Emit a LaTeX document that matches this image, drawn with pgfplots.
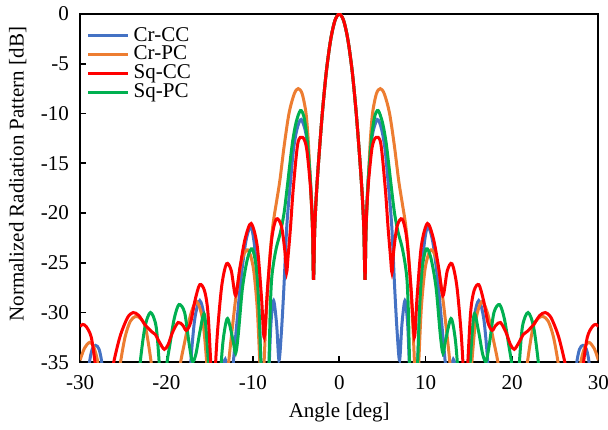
\documentclass[border=0pt]{standalone}
\usepackage{fontspec}
\setmainfont{Liberation Serif}
\usepackage{pgfplots}
\pgfplotsset{compat=1.18}
\definecolor{cBlue}{RGB}{68,114,196}
\definecolor{cOrange}{RGB}{237,125,49}
\definecolor{cRed}{RGB}{255,0,0}
\definecolor{cGreen}{RGB}{0,176,80}
\begin{document}
\begin{tikzpicture}
\begin{axis}[
 scale only axis, width=259pt, height=174pt,
 xmin=-30, xmax=30, ymin=-35, ymax=0,
 xtick={-30,-20,...,30}, ytick={-35,-30,...,0},
 tick pos=left,
 tick align=inside, major tick length=3pt,
 axis line style={line width=1pt},
 every tick/.style={black, line width=0.8pt},
 /pgf/number format/assume math mode=true,
 ticklabel style={font=\fontsize{10.5}{12}\selectfont},
 xticklabel style={yshift=-3pt},
 yticklabel style={xshift=-2pt},
 xlabel={Angle [deg]}, ylabel={Normalized Radiation Pattern [dB]},
 label style={font=\fontsize{10.5}{12}\selectfont},
 xlabel style={at={(axis description cs:0.5,-0.145)}, anchor=center},
 ylabel style={at={(axis description cs:-0.12,0.54)}, anchor=center},
 legend style={draw=none, fill=none, at={(axis description cs:0.012,0.975)}, anchor=north west, font=\fontsize{10.5}{12}\selectfont, row sep=-3pt, inner sep=0pt},
 legend cell align=left,
 legend image code/.code={\draw[#1] (0pt,0pt) -- (20pt,0pt);},
 unbounded coords=jump,
 every axis plot/.append style={line width=1.5pt, smooth},
]
% Cr-CC
\addplot[cBlue, forget plot] table {
x y
-29.5 -45
-29.2 -39
-28.95 -35.3
-28.6 -33.7
-28.2 -33.3
-27.8 -33.7
-27.45 -35.3
-27.2 -39
-26.9 -45
nan nan
-17.7 -43
-17.4 -38
-17.1 -34
-16.7 -30.5
-16.14 -28.8
-15.6 -30.6
-15.2 -35
-14.9 -38
-14.6 -42
-14.2 -44
-13.8 -40
-13.5 -36
-13.2 -34.7
-12.9 -36
-12.6 -37.5
-12.3 -35.3
-11.9 -31.5
-11.4 -26.8
-10.8 -22.8
-10.2 -21.4
-9.7 -24.2
-9.3 -30
-9.07 -35
-8.8 -40
-8.4 -42
-8.1 -35.0
-7.9 -31.0
-7.6 -28.8
-7.25 -31.2
-6.98 -34.8
-6.7 -32.0
-6.41 -27.5
-6.1 -21.7
-5.85 -18.8
-5.6 -16.4
-5.3 -13.6
-4.9 -11.6
-4.4 -10.6
-3.8 -12.3
-3.4 -16.0
-3.2 -19.0
-3.08 -22.0
-2.98 -26.7
-2.85 -21.8
-2.7 -18.9
-2.5 -16.1
-2.24 -13.0
-1.93 -9.65
-1.5 -5.8
-1.0 -2.6
-0.5 -0.65
0 0
0.5 -0.65
1.0 -2.6
1.5 -5.8
1.93 -9.65
2.24 -13.0
2.5 -16.1
2.7 -18.9
2.85 -21.8
2.98 -26.7
3.08 -22.0
3.2 -19.0
3.4 -16.0
3.8 -12.3
4.4 -10.6
4.9 -11.6
5.3 -13.6
5.6 -16.4
5.85 -18.8
6.1 -21.7
6.41 -27.5
6.7 -32.0
6.98 -34.8
7.25 -31.2
7.6 -28.8
7.9 -31.0
8.1 -35.0
8.4 -42
8.8 -40
9.07 -35
9.3 -30
9.7 -24.2
10.2 -21.4
10.8 -22.8
11.4 -26.8
11.9 -31.5
12.3 -35.3
12.6 -37.5
12.9 -36
13.2 -34.7
13.5 -36
13.8 -40
14.2 -44
14.6 -42
14.9 -38
15.2 -35
15.6 -30.6
16.14 -28.8
16.7 -30.5
17.1 -34
17.4 -38
17.7 -43
nan nan
26.9 -45
27.2 -39
27.45 -35.3
27.8 -33.7
28.2 -33.3
28.6 -33.7
28.95 -35.3
29.2 -39
29.5 -45
};
% Cr-PC
\addplot[cOrange, forget plot] table {
x y
-30 -34.8
-29.5 -33.6
-28.9 -33.0
-28.4 -33.5
-27.9 -35.3
-27.6 -39
-27.3 -44
nan nan
-26.2 -44
-25.8 -39
-25.4 -35.5
-24.8 -32.5
-24.2 -30.9
-23.6 -30.4
-23.0 -30.6
-22.4 -31.6
-21.7 -35.5
-21.4 -39
-21.0 -44
nan nan
-19.2 -44
-18.8 -39
-18.45 -35.5
-17.9 -33
-17.2 -30.2
-16.5 -28.9
-15.8 -30.8
-15.3 -35.5
-15.0 -40
-14.7 -44
nan nan
-13.8 -44
-13.3 -41
-12.9 -36
-12.5 -32.5
-11.9 -28
-11.3 -24.8
-10.7 -23.7
-10.3 -24.2
-9.9 -25.8
-9.5 -29.5
-9.2 -35
-8.95 -40
-8.75 -36
-8.5 -31
-8.22 -26.75
-7.95 -23.5
-7.65 -21.0
-7.25 -18.8
-6.87 -16.7
-6.37 -13.2
-5.8 -9.9
-5.2 -8.0
-4.75 -7.5
-4.3 -8.0
-3.86 -9.9
-3.6 -12.6
-3.4 -16.0
-3.2 -19.5
-3.08 -22.2
-2.98 -26.7
-2.85 -21.8
-2.7 -18.9
-2.5 -16.1
-2.24 -13.0
-1.93 -9.65
-1.5 -5.8
-1.0 -2.6
-0.5 -0.65
0 0
0.5 -0.65
1.0 -2.6
1.5 -5.8
1.93 -9.65
2.24 -13.0
2.5 -16.1
2.7 -18.9
2.85 -21.8
2.98 -26.7
3.08 -22.2
3.2 -19.5
3.4 -16.0
3.6 -12.6
3.86 -9.9
4.3 -8.0
4.75 -7.5
5.2 -8.0
5.8 -9.9
6.37 -13.2
6.87 -16.7
7.25 -18.8
7.65 -21.0
7.95 -23.5
8.22 -26.75
8.5 -31
8.75 -36
8.95 -40
9.2 -35
9.5 -29.5
9.9 -25.8
10.3 -24.2
10.7 -23.7
11.3 -24.8
11.9 -28
12.5 -32.5
12.9 -36
13.3 -41
13.8 -44
nan nan
14.7 -44
15.0 -40
15.3 -35.5
15.8 -30.8
16.5 -28.9
17.2 -30.2
17.9 -33
18.45 -35.5
18.8 -39
19.2 -44
nan nan
21.0 -44
21.4 -39
21.7 -35.5
22.4 -31.6
23.0 -30.6
23.6 -30.4
24.2 -30.9
24.8 -32.5
25.4 -35.5
25.8 -39
26.2 -44
nan nan
27.3 -44
27.6 -39
27.9 -35.3
28.4 -33.5
28.9 -33.0
29.5 -33.6
30 -34.8
};
% Sq-PC
\addplot[cGreen, forget plot] table {
x y
-23.9 -45
-23.5 -40
-23.1 -35.5
-22.5 -31.5
-21.85 -30.0
-21.2 -31.4
-20.8 -35.5
-20.4 -40
-20.0 -35.5
-19.6 -33.2
-19.1 -30.6
-18.55 -29.2
-17.9 -30.0
-17.4 -33.0
-17.0 -34.9
-16.6 -34.2
-16.1 -31.8
-15.6 -30.2
-15.15 -35
-14.9 -39
-14.6 -44
nan nan
-14.4 -44
-14.0 -40
-13.7 -35.5
-13.4 -32.5
-12.93 -30.6
-12.3 -32.8
-12.0 -34.1
-11.7 -32.3
-11.2 -27.5
-10.6 -24.5
-10.08 -23.6
-9.6 -25.5
-9.3 -29.5
-9.07 -35
-8.8 -40
-8.4 -42
-8.15 -35.5
-8.0 -30
-7.84 -26.75
-7.6 -25.0
-7.26 -23.4
-6.8 -21.9
-6.4 -20.05
-6.05 -17.6
-5.71 -15.0
-5.4 -12.8
-5.0 -10.9
-4.5 -9.7
-4.1 -10.3
-3.75 -12.3
-3.4 -16.0
-3.2 -19.3
-3.08 -22.1
-2.98 -26.7
-2.85 -21.8
-2.7 -18.9
-2.5 -16.1
-2.24 -13.0
-1.93 -9.65
-1.5 -5.8
-1.0 -2.6
-0.5 -0.65
0 0
0.5 -0.65
1.0 -2.6
1.5 -5.8
1.93 -9.65
2.24 -13.0
2.5 -16.1
2.7 -18.9
2.85 -21.8
2.98 -26.7
3.08 -22.1
3.2 -19.3
3.4 -16.0
3.75 -12.3
4.1 -10.3
4.5 -9.7
5.0 -10.9
5.4 -12.8
5.71 -15.0
6.05 -17.6
6.4 -20.05
6.8 -21.9
7.26 -23.4
7.6 -25.0
7.84 -26.75
8.0 -30
8.15 -35.5
8.4 -42
8.8 -40
9.07 -35
9.3 -29.5
9.6 -25.5
10.08 -23.6
10.6 -24.5
11.2 -27.5
11.7 -32.3
12.0 -34.1
12.3 -32.8
12.93 -30.6
13.4 -32.5
13.7 -35.5
14.0 -40
14.4 -44
nan nan
14.6 -44
14.9 -39
15.15 -35
15.6 -30.2
16.1 -31.8
16.6 -34.2
17.0 -34.9
17.4 -33.0
17.9 -30.0
18.55 -29.2
19.1 -30.6
19.6 -33.2
20.0 -35.5
20.4 -40
20.8 -35.5
21.2 -31.4
21.85 -30.0
22.5 -31.5
23.1 -35.5
23.5 -40
23.9 -45
};
% Sq-CC
\addplot[cRed, forget plot] table {
x y
-30 -31.4
-29.7 -31.2
-29.3 -31.4
-28.7 -32.5
-28.2 -35.5
-27.8 -39
-27.3 -42
-26.8 -40
-26.3 -36
-25.9 -34.2
-25.3 -32.2
-24.5 -30.5
-23.85 -30.0
-23.2 -30.3
-22.5 -31.2
-21.75 -31.9
-21.3 -32.2
-20.8 -33.0
-20.25 -33.7
-19.8 -33.2
-19.3 -32.0
-18.65 -31.0
-18.1 -31.3
-17.7 -31.8
-17.2 -31.0
-16.7 -28.8
-16.15 -27.2
-15.6 -27.8
-15.2 -30
-14.85 -35.5
-14.6 -40
-14.4 -36.5
-14.1 -32
-13.6 -27.3
-13.05 -25.1
-12.5 -25.8
-12.0 -28.3
-11.5 -25.5
-10.9 -22.6
-10.2 -21.05
-9.5 -23.3
-9.0 -28.5
-8.69 -32.5
-8.3 -27.5
-7.8 -22.5
-7.28 -20.6
-6.7 -21.3
-6.3 -23.8
-6.1 -26.0
-5.91 -24.2
-5.65 -21.5
-5.33 -17.6
-4.8 -13.0
-4.25 -12.4
-3.8 -13.4
-3.4 -16.7
-3.2 -19.3
-3.08 -22.0
-2.98 -26.7
-2.85 -21.8
-2.7 -18.9
-2.5 -16.1
-2.24 -13.0
-1.93 -9.65
-1.5 -5.8
-1.0 -2.6
-0.5 -0.65
0 0
0.5 -0.65
1.0 -2.6
1.5 -5.8
1.93 -9.65
2.24 -13.0
2.5 -16.1
2.7 -18.9
2.85 -21.8
2.98 -26.7
3.08 -22.0
3.2 -19.3
3.4 -16.7
3.8 -13.4
4.25 -12.4
4.8 -13.0
5.33 -17.6
5.65 -21.5
5.91 -24.2
6.1 -26.0
6.3 -23.8
6.7 -21.3
7.28 -20.6
7.8 -22.5
8.3 -27.5
8.69 -32.5
9.0 -28.5
9.5 -23.3
10.2 -21.05
10.9 -22.6
11.5 -25.5
12.0 -28.3
12.5 -25.8
13.05 -25.1
13.6 -27.3
14.1 -32
14.4 -36.5
14.6 -40
14.85 -35.5
15.2 -30
15.6 -27.8
16.15 -27.2
16.7 -28.8
17.2 -31.0
17.7 -31.8
18.1 -31.3
18.65 -31.0
19.3 -32.0
19.8 -33.2
20.25 -33.7
20.8 -33.0
21.3 -32.2
21.75 -31.9
22.5 -31.2
23.2 -30.3
23.85 -30.0
24.5 -30.5
25.3 -32.2
25.9 -34.2
26.3 -36
26.8 -40
27.3 -42
27.8 -39
28.2 -35.5
28.7 -32.5
29.3 -31.4
29.7 -31.2
30 -31.4
};
\addlegendimage{cBlue, line width=1.5pt}
\addlegendentry{Cr-CC}
\addlegendimage{cOrange, line width=1.5pt}
\addlegendentry{Cr-PC}
\addlegendimage{cRed, line width=1.5pt}
\addlegendentry{Sq-CC}
\addlegendimage{cGreen, line width=1.5pt}
\addlegendentry{Sq-PC}
\end{axis}
\pgfresetboundingbox
\path[use as bounding box] ([shift={(-40pt,-33.5pt)}]current axis.south west) rectangle ([shift={(4.75pt,7pt)}]current axis.north east);
\end{tikzpicture}
\end{document}
